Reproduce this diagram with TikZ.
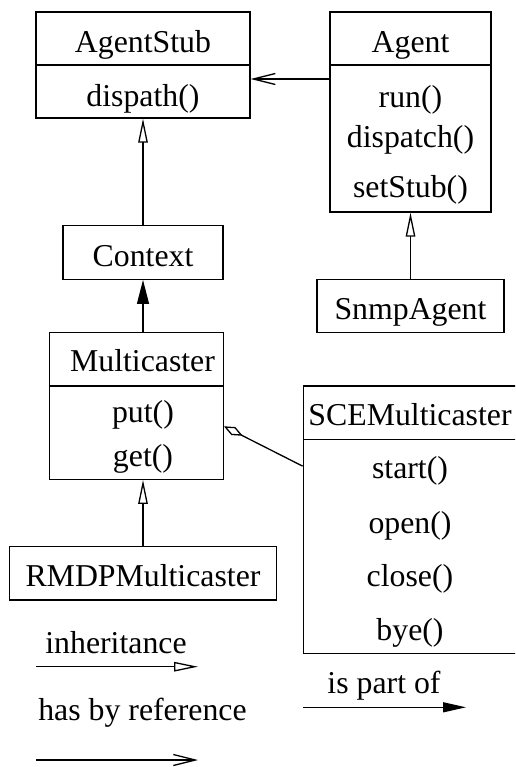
\documentclass[tikz,border=0pt]{standalone}
\usepackage{fontspec}
\setmainfont{Liberation Serif}
\usetikzlibrary{arrows.meta,calc}
\begin{document}
\begin{tikzpicture}[x=1pt,y=-1pt,line width=1.3pt,
  font=\fontsize{31.8}{38}\selectfont,
  classbox/.style={draw,rectangle,inner sep=0pt,line width=1.3pt},
  lbl/.style={anchor=base,inner sep=0pt},
  inh/.style={-{Triangle[open,length=24pt,width=9.5pt]}},
  filledtri/.style={-{Triangle[length=24pt,width=12pt]}},
  legfilled/.style={-{Triangle[length=23pt,width=10pt]}},
  refarrow/.style={-{Straight Barb[length=22pt,width=11pt]}},
  partof/.style={-{Diamond[open,length=21pt,width=9pt]}}]
\clip (0,0) rectangle (515,767);
\fill[white] (0,0) rectangle (515,767);

% AgentStub
\node[classbox,minimum width=214pt,minimum height=106pt] (agentstub) at (143,65) {};
\draw (36,65) -- (250,65);
\node[lbl] (agentstubname) at (143,53) {AgentStub};
\node[lbl] (dispath) at (143,107) {dispath()};

% Agent
\node[classbox,minimum width=161pt,minimum height=200pt] (agent) at (410.5,112) {};
\draw (330,65) -- (491,65);
\node[lbl] (agentname) at (410.5,53) {Agent};
\node[lbl] (run) at (410.5,108) {run()};
\node[lbl] (dispatch) at (410.5,148) {dispatch()};
\node[lbl] (setstub) at (410.5,197) {setStub()};

% Context
\node[classbox,minimum width=160pt,minimum height=53.6pt] (context) at (143,252.5) {};
\node[lbl] (contextname) at (143,266) {Context};

% SnmpAgent
\node[classbox,minimum width=187pt,minimum height=53.4pt] (snmp) at (410.5,306) {};
\node[lbl] (snmpname) at (410.5,319.3) {SnmpAgent};

% Multicaster
\node[classbox,minimum width=174pt,minimum height=146.6pt] (multi) at (136.3,406) {};
\draw (49.3,386) -- (223.3,386);
\node[lbl] (multiname) at (142.5,371.7) {Multicaster};
\node[lbl] (put) at (143,422.7) {put()};
\node[lbl] (get) at (143,466.5) {get()};

% SCEMulticaster (right side cut by the page edge)
\node[classbox,minimum width=213.4pt,minimum height=267.3pt] (sce) at (410,519.65) {};
\draw (303.3,439.3) -- (517,439.3);
\node[lbl] (scename) at (410,425) {SCEMulticaster};
\node[lbl] (start) at (410,478) {start()};
\node[lbl] (open) at (410,533) {open()};
\node[lbl] (close) at (410,586.7) {close()};
\node[lbl] (bye) at (410,640) {bye()};

% RMDPMulticaster
\node[classbox,minimum width=267.4pt,minimum height=53.3pt] (rmdp) at (143,573.3) {};
\node[lbl] (rmdpname) at (143,586.7) {RMDPMulticaster};

% connectors
\draw[refarrow] ($(agent.west)+(0,-33)$) -- ($(agentstub.east)+(0,14)$);
\draw[inh] (context.north) -- (agentstub.south);
\draw[inh] (snmp.north) -- (agent.south);
\draw[filledtri] (context.south |- multi.north) -- (context.south);
\draw[inh] (rmdp.north) -- (rmdp.north |- multi.south);
\draw[partof] ($(sce.west)+(0,-53.5)$) -- ($(multi.east)+(0,20.3)$);

% legend
\node[lbl] (leginh) at (116,653.3) {inheritance};
\coordinate (inhA) at (36,666.7);
\coordinate (inhB) at (198,666.7);
\draw[inh] (inhA) -- (inhB);

\node[lbl] (legref) at (142.5,720) {has by reference};
\coordinate (refA) at (36,760);
\coordinate (refB) at (198,760);
\draw[refarrow] (refA) -- (refB);

\node[lbl] (legpart) at (384,693.3) {is part of};
\coordinate (partA) at (303,707.3);
\coordinate (partB) at (466,707.3);
\draw[legfilled] (partA) -- (partB);
\end{tikzpicture}
\end{document}
